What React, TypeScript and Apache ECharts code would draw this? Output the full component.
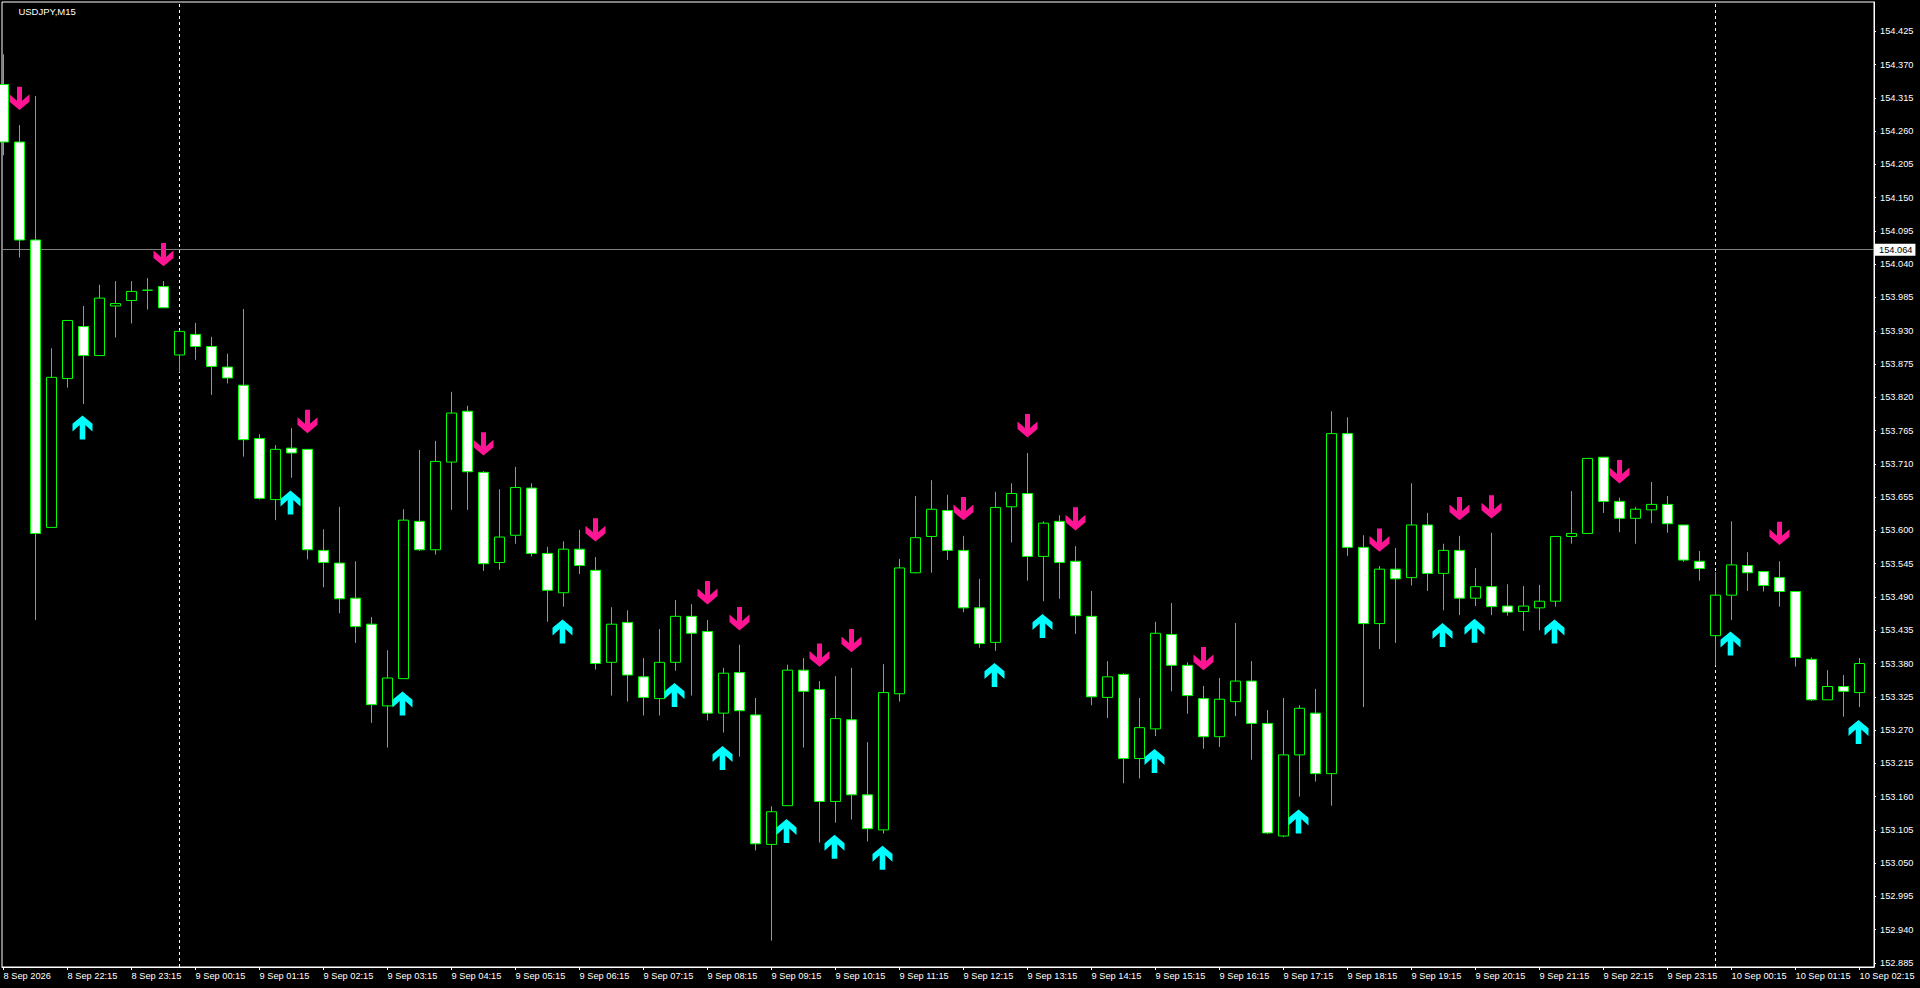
import React, { useEffect, useRef } from "react";
import * as echarts from "echarts";

const chartTitle = "USDJPY,M15";
const currentPrice = 154.064;
const sessionBars = [11, 107];

const opens = [154.337,154.242,154.080,153.605,153.851,153.937,153.889,153.971,153.980,153.997,154.003,153.890,153.924,153.904,153.870,153.840,153.752,153.651,153.736,153.734,153.567,153.546,153.488,153.445,153.310,153.355,153.615,153.568,153.713,153.797,153.696,153.547,153.592,153.670,153.562,153.497,153.569,153.534,153.382,153.448,153.358,153.322,153.382,153.458,153.433,153.298,153.365,153.295,153.081,153.145,153.369,153.337,153.152,153.287,153.163,153.105,153.330,153.530,153.590,153.633,153.567,153.472,153.415,153.639,153.661,153.557,153.615,153.549,153.458,153.324,153.362,153.223,153.272,153.428,153.377,153.322,153.259,153.317,153.351,153.281,153.095,153.229,153.298,153.198,153.760,153.572,153.446,153.536,153.522,153.609,153.529,153.567,153.488,153.507,153.475,153.466,153.472,153.483,153.590,153.595,153.721,153.648,153.620,153.634,153.643,153.609,153.549,153.426,153.493,153.542,153.532,153.522,153.499,153.387,153.320,153.342,153.332];
const closes = [154.242,154.080,153.595,153.853,153.947,153.889,153.984,153.975,153.995,153.997,153.968,153.929,153.904,153.871,153.852,153.750,153.653,153.734,153.728,153.568,153.547,153.487,153.441,153.312,153.356,153.617,153.568,153.714,153.794,153.697,153.545,153.589,153.671,153.562,153.501,153.569,153.542,153.380,153.445,153.361,153.324,153.382,153.458,153.430,153.298,153.364,153.302,153.082,153.135,153.369,153.334,153.152,153.289,153.163,153.107,153.332,153.538,153.588,153.635,153.567,153.472,153.413,153.638,153.661,153.557,153.612,153.547,153.459,153.325,153.358,153.223,153.274,153.430,153.377,153.327,153.259,153.321,153.351,153.281,153.100,153.229,153.306,153.198,153.760,153.572,153.446,153.536,153.520,153.609,153.529,153.567,153.488,153.507,153.474,153.465,153.475,153.483,153.590,153.595,153.719,153.648,153.620,153.635,153.643,153.611,153.551,153.537,153.493,153.543,153.530,153.509,153.499,153.390,153.320,153.342,153.334,153.380];
const lows = [154.220,154.051,153.452,153.605,153.836,153.809,153.889,153.919,153.942,153.965,153.968,153.862,153.882,153.824,153.843,153.722,153.651,153.617,153.687,153.552,153.506,153.463,153.414,153.282,153.241,153.355,153.566,153.560,153.634,153.634,153.533,153.535,153.578,153.557,153.449,153.474,153.528,153.370,153.327,153.317,153.294,153.294,153.368,153.327,153.286,153.266,153.226,153.071,152.922,153.145,153.241,153.084,153.117,153.122,153.086,153.099,153.317,153.529,153.530,153.551,153.465,153.406,153.401,153.580,153.517,153.483,153.487,153.429,153.311,153.290,153.182,153.190,153.260,153.334,153.297,153.239,153.242,153.293,153.221,153.098,153.093,153.160,153.185,153.145,153.558,153.308,153.404,153.414,153.509,153.500,153.468,153.460,153.475,153.460,153.459,153.434,153.435,153.474,153.578,153.595,153.629,153.597,153.578,153.612,153.596,153.548,153.517,153.377,153.452,153.500,153.499,153.474,153.375,153.318,153.320,153.292,153.308];
const highs = [154.387,154.270,154.318,153.901,153.947,153.971,154.006,154.012,154.012,154.017,154.012,153.931,153.943,153.920,153.892,153.966,153.759,153.741,153.769,153.734,153.602,153.639,153.549,153.457,153.402,153.635,153.733,153.748,153.829,153.806,153.698,153.668,153.705,153.678,153.573,153.582,153.601,153.556,153.473,153.468,153.389,153.437,153.485,153.478,153.452,153.373,153.411,153.323,153.144,153.378,153.389,153.351,153.359,153.373,153.250,153.379,153.553,153.657,153.683,153.659,153.591,153.520,153.664,153.678,153.728,153.615,153.625,153.574,153.500,153.384,153.364,153.323,153.449,153.480,153.382,153.343,153.356,153.447,153.384,153.303,153.323,153.311,153.338,153.797,153.787,153.592,153.541,153.571,153.678,153.629,153.578,153.591,153.538,153.596,153.511,153.508,153.510,153.590,153.665,153.719,153.721,153.654,153.639,153.680,153.657,153.609,153.566,153.531,153.615,153.564,153.532,153.549,153.499,153.390,153.369,153.361,153.389];

const sellBars = [1,10,19,30,37,44,46,51,53,60,64,67,75,86,91,93,101,111];
const sellPrices = [154.314,154.056,153.780,153.743,153.601,153.497,153.454,153.394,153.418,153.636,153.773,153.619,153.388,153.584,153.636,153.639,153.697,153.595];
const buyBars = [5,18,25,35,42,45,49,52,55,62,65,72,81,90,92,97,108,116];
const buyPrices = [153.770,153.646,153.314,153.433,153.328,153.224,153.103,153.077,153.059,153.361,153.442,153.219,153.119,153.427,153.434,153.433,153.413,153.267];

const priceTicks = [154.425,154.370,154.315,154.260,154.205,154.150,154.095,154.040,153.985,153.930,153.875,153.820,153.765,153.710,153.655,153.600,153.545,153.490,153.435,153.380,153.325,153.270,153.215,153.160,153.105,153.050,152.995,152.940,152.885];
const timeLabels = ["8 Sep 2026","8 Sep 22:15","8 Sep 23:15","9 Sep 00:15","9 Sep 01:15","9 Sep 02:15","9 Sep 03:15","9 Sep 04:15","9 Sep 05:15","9 Sep 06:15","9 Sep 07:15","9 Sep 08:15","9 Sep 09:15","9 Sep 10:15","9 Sep 11:15","9 Sep 12:15","9 Sep 13:15","9 Sep 14:15","9 Sep 15:15","9 Sep 16:15","9 Sep 17:15","9 Sep 18:15","9 Sep 19:15","9 Sep 20:15","9 Sep 21:15","9 Sep 22:15","9 Sep 23:15","10 Sep 00:15","10 Sep 01:15","10 Sep 02:15"];
const barsPerLabel = 4;

const FONT = "'Liberation Sans', Arial, sans-serif";
const DOWN_ARROW = "path://M7.5 0H12.5V14L20 7.5V15L10 23.3L0 15V7.5L7.5 14Z";
const UP_ARROW = "path://M7.2 24H12.8V9.5L20 16V8.3L10 0L0 8.3V16L7.2 9.5Z";

export default function App() {
  const ref = useRef<HTMLDivElement>(null);
  useEffect(() => {
    const chart = echarts.init(ref.current!, null, { renderer: "svg" });
    const timeTicks = timeLabels.map((_, i) => i * barsPerLabel);
    chart.setOption({
      animation: false,
      backgroundColor: "#000",
      title: {
        text: chartTitle,
        left: 13.4,
        top: 1,
        textStyle: { color: "#fff", fontSize: 9.5, fontWeight: "normal", fontFamily: FONT },
      },
      grid: { left: 2, top: 2, width: 1872, height: 965, show: true, borderColor: "#fff", borderWidth: 1, backgroundColor: "#000" },
      xAxis: {
        type: "value",
        min: -0.09375,
        max: 116.90625,
        splitLine: { show: false },
        axisLine: { show: true, onZero: false, lineStyle: { color: "#fff", width: 1 } },
        axisTick: { show: true, length: 3, customValues: timeTicks, lineStyle: { color: "#fff" } },
        axisLabel: {
          show: true,
          customValues: timeTicks,
          formatter: (v: number) => timeLabels[Math.round(v / barsPerLabel)],
          color: "#fff",
          fontSize: 9.25,
          fontFamily: FONT,
          align: "left",
          margin: 4,
          showMinLabel: true,
          showMaxLabel: true,
          hideOverlap: false,
        },
      },
      yAxis: {
        type: "value",
        position: "right",
        min: 152.8784,
        max: 154.4734,
        scale: true,
        splitLine: { show: false },
        axisLine: { show: true, onZero: false, lineStyle: { color: "#fff", width: 1 } },
        axisTick: { show: true, length: 2, customValues: priceTicks, lineStyle: { color: "#fff" } },
        axisLabel: {
          show: true,
          customValues: priceTicks,
          formatter: (v: number) => v.toFixed(3),
          color: "#fff",
          fontSize: 9.25,
          fontFamily: FONT,
          margin: 6,
          showMinLabel: true,
          showMaxLabel: true,
          hideOverlap: false,
        },
      },
      series: [
        {
          type: "candlestick",
          z: 5,
          barWidth: 10,
          encode: { x: 0, y: [1, 2, 3, 4] },
          data: opens.map((o, i) => [i, o, closes[i], lows[i], highs[i]]),
          itemStyle: { color: "#000", color0: "#fff", borderColor: "#00ff00", borderColor0: "#00ff00", borderColorDoji: "#00ff00", borderWidth: 1 },
          markLine: {
            silent: true,
            z: 1,
            precision: 3,
            symbol: "none",
            animation: false,
            data: [
              ...sessionBars.map((b) => ({
                xAxis: b,
                label: { show: false },
                lineStyle: { color: "#fff", type: [3, 3], width: 1 },
              })),
              {
                yAxis: currentPrice,
                lineStyle: { color: "#808080", type: "solid", width: 1 },
                label: {
                  show: true,
                  position: "end",
                  distance: 1,
                  formatter: currentPrice.toFixed(3),
                  color: "#000",
                  backgroundColor: "#fff",
                  fontSize: 9.25,
                  fontFamily: FONT,
                  padding: [2, 3, 1, 4],
                },
              },
            ],
          },
        },
        {
          type: "scatter",
          z: 10,
          symbol: DOWN_ARROW,
          symbolSize: [20, 23.3],
          itemStyle: { color: "#ff1493", opacity: 1 },
          data: sellBars.map((b, i) => [b, sellPrices[i]]),
        },
        {
          type: "scatter",
          z: 10,
          symbol: UP_ARROW,
          symbolSize: [20, 24],
          symbolOffset: [-1, 0],
          itemStyle: { color: "#00ffff", opacity: 1 },
          data: buyBars.map((b, i) => [b, buyPrices[i]]),
        },
      ],
    });
    return () => chart.dispose();
  }, []);
  return (
    <div
      ref={ref}
      style={{ position: "fixed", left: 0, top: 0, width: 1920, height: 988, background: "#000" }}
    />
  );
}
